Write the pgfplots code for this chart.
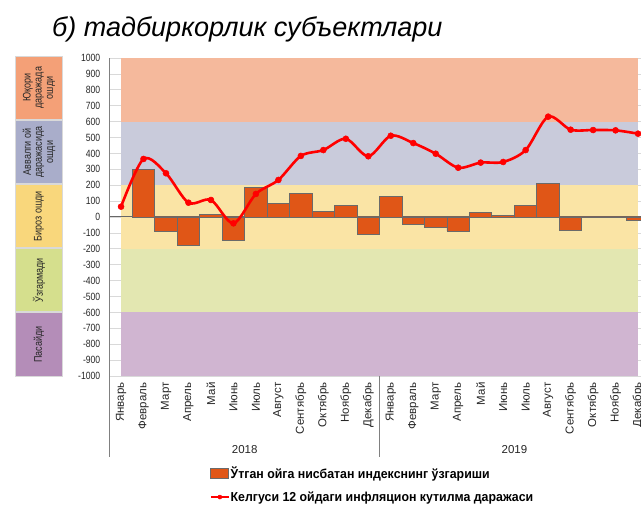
\documentclass[border=0pt]{standalone}
\usepackage{fontspec}
\setmainfont{Liberation Sans}
\newfontfamily\narrowfont[FakeStretch=0.82]{Liberation Sans}
\newfontfamily\legfont[FakeStretch=0.95]{Liberation Sans}
\usepackage{pgfplots}
\pgfplotsset{compat=1.18}
\definecolor{bandA}{HTML}{F5B99C}
\definecolor{bandB}{HTML}{C9CBDB}
\definecolor{bandC}{HTML}{FAE4A5}
\definecolor{bandD}{HTML}{E3E7B1}
\definecolor{bandE}{HTML}{D0B5D1}
\definecolor{boxA}{HTML}{F4A077}
\definecolor{boxB}{HTML}{A9ADCA}
\definecolor{boxC}{HTML}{F9D77C}
\definecolor{boxD}{HTML}{D5DF8D}
\definecolor{boxE}{HTML}{B48DB8}
\definecolor{barorange}{HTML}{E05617}
\definecolor{bargray}{HTML}{6A6A6A}
\definecolor{axisgray}{HTML}{808080}
\definecolor{gridgray}{HTML}{D9D9D9}
\definecolor{linered}{HTML}{FF0000}
\pgfplotsset{
  barlegend/.style={legend image code/.code={\draw[##1] (0pt,-5pt) rectangle (18pt,5pt);}},
  linelegend/.style={legend image code/.code={\draw[mark repeat=2, mark phase=2, ##1, line width=1.6pt, mark size=2pt] plot coordinates {(0pt,0pt) (9pt,0pt) (18pt,0pt)};}},
}
\begin{document}
\begin{tikzpicture}[x=1pt,y=1pt]
\path[use as bounding box] (0pt,0pt) rectangle (641pt,505pt);
\clip (0pt,0pt) rectangle (641pt,505pt);
% title
\node[anchor=base west, font=\itshape\fontsize{27}{31}\selectfont, inner sep=0pt] at (52pt,468pt) {б) тадбиркорлик субъектлари};
% left legend boxes
\tikzset{lbox/.style={rotate=90, draw=gridgray, line width=1pt, minimum width=63.2pt, minimum height=47pt, inner sep=0pt, align=center, font=\narrowfont\fontsize{11}{11.2}\selectfont, text=black!85}}
\node[lbox, fill=boxA] at (39pt,417.2pt) {Юқори\\даражада\\ошди};
\node[lbox, fill=boxB] at (39pt,353.0pt) {Аввалги ой\\даражасида\\ошди};
\node[lbox, fill=boxC] at (39pt,288.8pt) {Бироз ошди};
\node[lbox, fill=boxD] at (39pt,224.6pt) {Ўзгармади};
\node[lbox, fill=boxE] at (39pt,160.4pt) {Пасайди};
\begin{axis}[
  at={(109.8pt,129pt)}, anchor=south west,
  scale only axis, width=539.5pt, height=318pt,
  xmin=-0.5, xmax=23.5, ymin=-1000, ymax=1000,
  clip=false,
  axis y line*=left, axis x line*=bottom,
  x axis line style={draw=none},
  y axis line style={draw=axisgray, line width=0.9pt},
  ytick={-1000,-900,...,1000},
  ymajorgrids, grid style={draw=gridgray, line width=0.7pt},
  major tick length=0pt,
  xtick={0,...,23},
  xticklabels={Январь,Февраль,Март,Апрель,Май,Июнь,Июль,Август,Сентябрь,Октябрь,Ноябрь,Декабрь,Январь,Февраль,Март,Апрель,Май,Июнь,Июль,Август,Сентябрь,Октябрь,Ноябрь,Декабрь},
  xticklabel style={rotate=90, anchor=east, font=\fontsize{11.5}{13}\selectfont, text=black!85},
  xticklabel shift=3pt,
  yticklabel style={font=\narrowfont\fontsize{10.5}{12}\selectfont, text=black!85},
  yticklabel shift=6pt,
  /pgf/number format/assume math mode=true,
  /pgf/number format/1000 sep={},
  legend style={at={(axis description cs:0.1855,-0.283)}, anchor=north west, draw=none, fill=none,
    font=\legfont\bfseries\fontsize{13}{15}\selectfont, row sep=9pt, inner sep=0pt,
    nodes={inner sep=1pt}},
  legend cell align=left,
]
% background bands
\fill[bandA] (axis cs:0,600) rectangle (axis cs:23,1000);
\fill[bandB] (axis cs:0,200) rectangle (axis cs:23,600);
\fill[bandC] (axis cs:0,-200) rectangle (axis cs:23,200);
\fill[bandD] (axis cs:0,-600) rectangle (axis cs:23,-200);
\fill[bandE] (axis cs:0,-1000) rectangle (axis cs:23,-600);
% zero line
\draw[axisgray!80!black, line width=1pt] (axis cs:-0.5,0) -- (axis cs:23.5,0);
% bars
\addplot[ybar, bar width=1, fill=barorange, draw=bargray, line width=0.9pt, barlegend]
  coordinates {
  (1,300) (2,-90) (3,-180) (4,17) (5,-145) (6,184) (7,86) (8,145) (9,36) (10,75) (11,-107)
  (12,130) (13,-46) (14,-67) (15,-88) (16,30) (17,8) (18,75) (19,208) (20,-84) (21,-3) (22,-3) (23,-19)
  };
\addlegendentry{Ўтган ойга нисбатан индекснинг ўзгариши}
% line
\addplot[linered, line width=2.6pt, smooth, tension=0.5, mark=*, mark size=3pt,
  mark options={fill=linered, draw=linered, line width=0.5pt}, linelegend]
  coordinates {
  (0,65) (1,365) (2,275) (3,90) (4,107) (5,-40) (6,145) (7,233) (8,384) (9,421) (10,492) (11,382)
  (12,511) (13,465) (14,398) (15,310) (16,342) (17,346) (18,421) (19,631) (20,549) (21,547) (22,545) (23,524)
  };
\addlegendentry{Келгуси 12 ойдаги инфляцион кутилма даражаси}
% group separators and year labels
\draw[axisgray, line width=0.9pt] (axis cs:-0.5,-1000) -- ++(0pt,-81pt);
\draw[axisgray, line width=0.9pt] (axis cs:11.5,-1000) -- ++(0pt,-81pt);
\draw[axisgray, line width=0.9pt] (axis cs:23.5,-1000) -- ++(0pt,-81pt);
\node[font=\fontsize{11.5}{13}\selectfont, text=black!85, yshift=-74pt] at (axis cs:5.5,-1000) {2018};
\node[font=\fontsize{11.5}{13}\selectfont, text=black!85, yshift=-74pt] at (axis cs:17.5,-1000) {2019};
\end{axis}
\end{tikzpicture}
\end{document}
